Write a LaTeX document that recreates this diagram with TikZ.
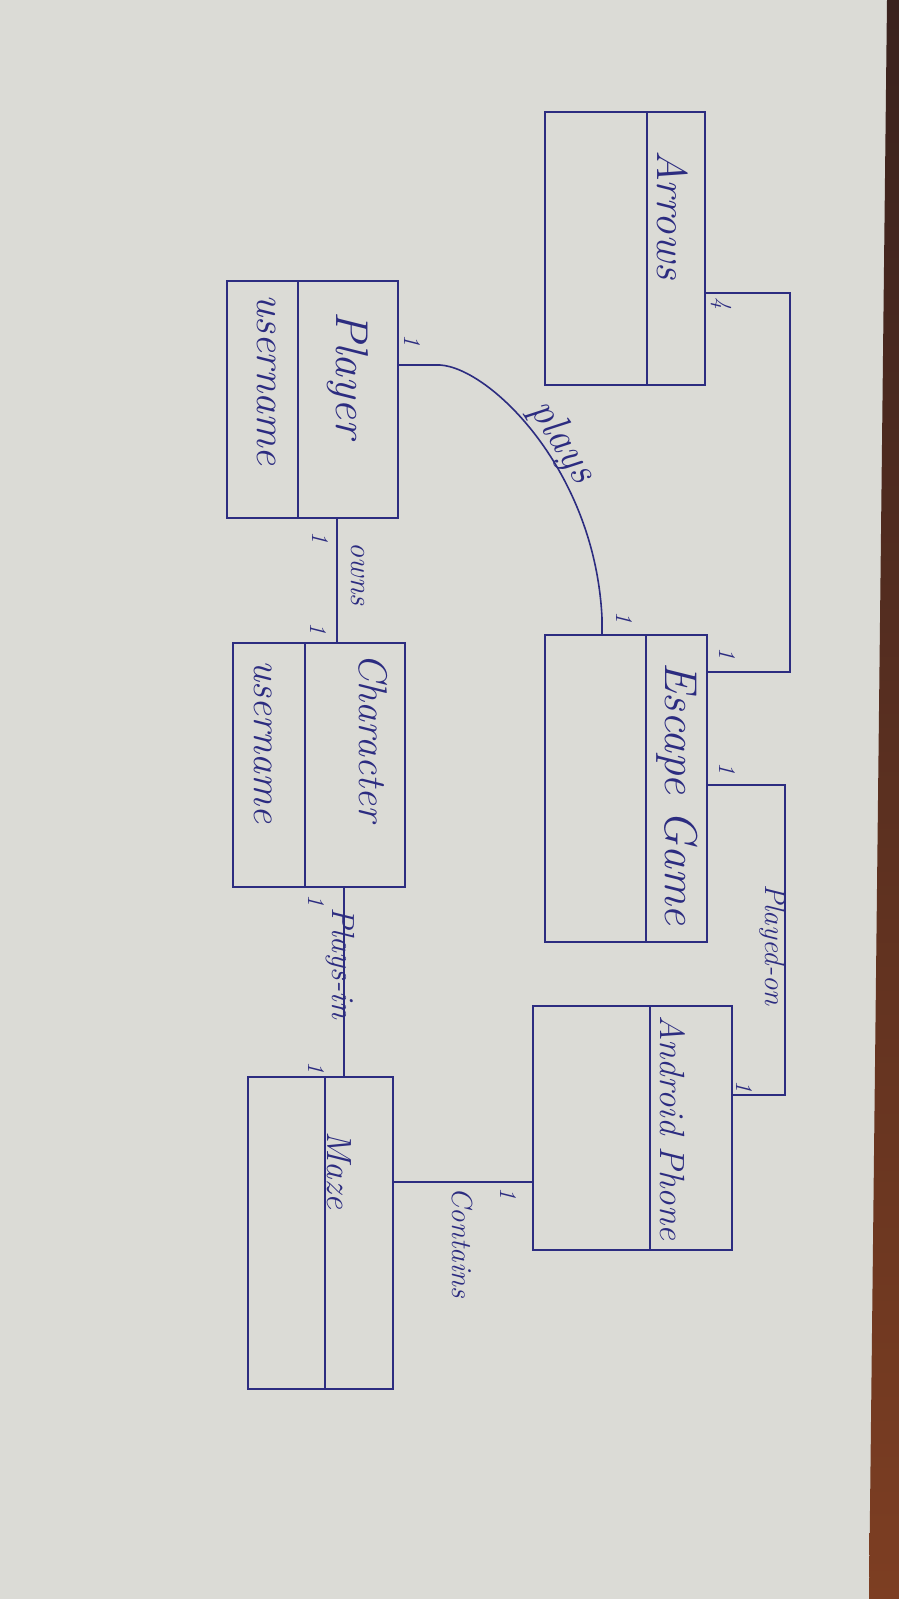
\documentclass[tikz,border=0pt]{standalone}
\usepackage{fontspec}
\begin{document}
\definecolor{ink}{RGB}{44,44,128}
\definecolor{paper}{RGB}{219,219,214}
\definecolor{woodtop}{RGB}{58,34,30}
\definecolor{woodbot}{RGB}{125,62,34}
\tikzset{
  cls/.style={draw=ink, line width=1.8pt, inner sep=0pt, outer sep=0pt, rectangle},
  conn/.style={draw=ink, line width=1.6pt},
  hw/.style={text=ink, rotate=-90, inner sep=0pt, font=\itshape\fontsize{#1}{#1}\selectfont},
  mult/.style={hw=24},
}
\begin{tikzpicture}[x=1pt,y=-1pt]
\useasboundingbox (0,0) rectangle (899,1599);
\fill[paper] (0,0) rectangle (899,1599);
\shade[top color=woodtop, bottom color=woodbot] (887,0) -- (869,1599) -- (899,1599) -- (899,0) -- cycle;

% classes
\node[cls, minimum width=160pt, minimum height=273pt] (arrows) at (625,248.5) {};
\draw[conn] ([xshift=102pt]arrows.north west) -- ([xshift=102pt]arrows.south west);
\node[hw=43] (arrowsname) at (673,215) {Arrows};

\node[cls, minimum width=171pt, minimum height=237pt] (player) at (312.5,399.5) {};
\draw[conn] ([xshift=71pt]player.north west) -- ([xshift=71pt]player.south west);
\node[hw=46] (playername) at (348,375) {Player};
\node[hw=42] (playerattr) at (267,380) {username};

\node[cls, minimum width=162pt, minimum height=307pt] (escape) at (626,788.5) {};
\draw[conn] ([xshift=101pt]escape.north west) -- ([xshift=101pt]escape.south west);
\node[hw=46] (escapename) at (677,794) {Escape Game};

\node[cls, minimum width=172pt, minimum height=244pt] (character) at (319,765) {};
\draw[conn] ([xshift=72pt]character.north west) -- ([xshift=72pt]character.south west);
\node[hw=40] (charname) at (373,738) {Character};
\node[hw=40] (charattr) at (263,742) {username};

\node[cls, minimum width=199pt, minimum height=244pt] (android) at (632.5,1128) {};
\draw[conn] ([xshift=117pt]android.north west) -- ([xshift=117pt]android.south west);
\node[hw=35] (androidname) at (673,1128) {Android Phone};

\node[cls, minimum width=145pt, minimum height=312pt] (maze) at (320.5,1233) {};
\draw[conn] ([xshift=77pt]maze.north west) -- ([xshift=77pt]maze.south west);
\node[hw=35] (mazename) at (339,1170) {Maze};

% connectors
\coordinate (ae1) at (790,293);
\coordinate (ae2) at (790,672);
\draw[conn] (arrows.east |- ae1) -- (ae1) -- (ae2) -- (escape.east |- ae2);
\node[mult] (m1) at (721,303) {4};
\node[mult] (m2) at (727,653) {1};

\coordinate (ea1) at (785,785);
\coordinate (ea2) at (785,1095);
\draw[conn] (escape.east |- ea1) -- (ea1) -- (ea2) -- (android.east |- ea2);
\node[mult] (m3) at (727,768) {1};
\node[mult] (m4) at (744,1086) {1};
\node[hw=29] (playedon) at (773,945) {Played-on};

\coordinate (pe1) at (440,365);
\coordinate (pe2) at (602,618);
\draw[conn] (player.east |- pe1) -- (pe1) .. controls (490,368) and (595,470) .. (pe2) -- (escape.north -| pe2);
\node[mult] (m5) at (412,340) {1};
\node[mult] (m6) at (624,617) {1};
\node[hw=42, rotate=32] (plays) at (562,442) {plays};

\coordinate (ow) at (337,580);
\draw[conn] (player.south -| ow) -- (character.north -| ow);
\node[mult] (m7) at (320,537) {1};
\node[mult] (m8) at (318,628) {1};
\node[hw=30] (owns) at (358,574) {owns};

\coordinate (pi) at (344,980);
\draw[conn] (character.south -| pi) -- (maze.north -| pi);
\node[mult] (m9) at (316,900) {1};
\node[mult] (m10) at (316,1067) {1};
\node[hw=32] (playsin) at (340,963) {Plays-in};

\coordinate (ct) at (460,1182);
\draw[conn] (maze.east |- ct) -- (android.west |- ct);
\node[mult] (m11) at (508,1193) {1};
\node[hw=29] (contains) at (462,1243) {Contains};
\end{tikzpicture}
\end{document}
